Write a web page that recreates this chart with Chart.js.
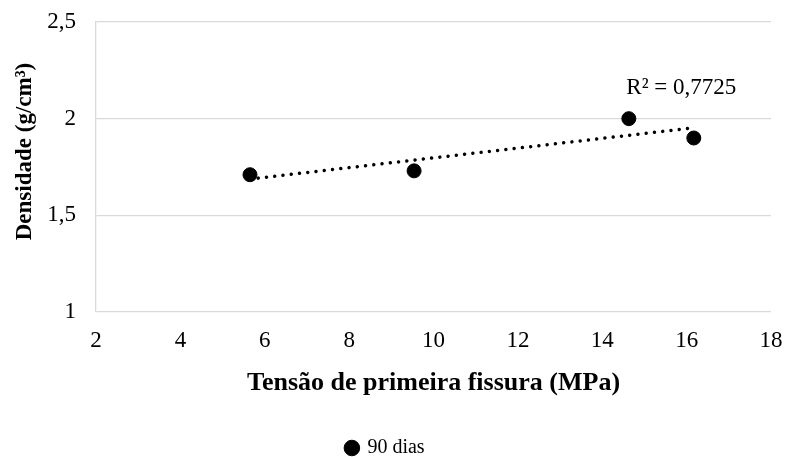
<!DOCTYPE html>
<html>
<head>
<meta charset="utf-8">
<script src="https://cdn.jsdelivr.net/npm/chart.js@4/dist/chart.umd.min.js"></script>
<style>
  html, body { margin: 0; padding: 0; background: #fff; }
  #wrap { width: 787px; height: 457px; position: relative; }
</style>
</head>
<body>
<div id="wrap"><canvas id="c" width="787" height="457"></canvas></div>
<script>
// Data
const seriesName = '90 dias';
const tensao = [5.65, 9.54, 14.63, 16.17];     // x: Tensão de primeira fissura (MPa)
const densidade = [1.71, 1.73, 2.0, 1.9];     // y: Densidade (g/cm³)
const r2Label = 'R² = 0,7725';
const xTitle = 'Tensão de primeira fissura (MPa)';
const yTitle = 'Densidade (g/cm³)';
const xTicks = [2, 4, 6, 8, 10, 12, 14, 16, 18];
const yTicks = [1, 1.5, 2, 2.5];

// Linear trendline (least squares) from the data
function linFit(xs, ys) {
  const n = xs.length;
  const mx = xs.reduce((a, b) => a + b, 0) / n;
  const my = ys.reduce((a, b) => a + b, 0) / n;
  let sxy = 0, sxx = 0;
  for (let i = 0; i < n; i++) { sxy += (xs[i] - mx) * (ys[i] - my); sxx += (xs[i] - mx) ** 2; }
  const m = sxy / sxx;
  return { m, b: my - m * mx };
}
const fit = linFit(tensao, densidade);
const xMin = Math.min(...tensao), xMax = Math.max(...tensao);
const trend = [xMin, xMax].map(x => ({ x, y: fit.m * x + fit.b }));

const FONT = "'Liberation Serif', 'Times New Roman', serif";

const textPlugin = {
  id: 'texts',
  afterDatasetsDraw(chart) {
    const { ctx, scales } = chart;
    ctx.save();
    ctx.fillStyle = '#000';
    // R² label
    ctx.font = `23px ${FONT}`;
    ctx.textAlign = 'left';
    ctx.textBaseline = 'middle';
    ctx.fillText(r2Label, scales.x.getPixelForValue(14.57), scales.y.getPixelForValue(2.161));
    // Y axis title (rotated)
    ctx.font = `bold 23px ${FONT}`;
    ctx.textAlign = 'center';
    ctx.translate(25, scales.y.getPixelForValue(1.83));
    ctx.rotate(-Math.PI / 2);
    ctx.fillText(yTitle, 0, 0);
    ctx.restore();
  }
};

new Chart(document.getElementById('c'), {
  type: 'scatter',
  data: {
    datasets: [
      {
        label: seriesName,
        data: tensao.map((x, i) => ({ x, y: densidade[i] })),
        backgroundColor: '#000',
        borderColor: '#000',
        pointRadius: 7,
        pointHoverRadius: 7,
        pointStyle: 'circle',
        order: 1
      },
      {
        label: 'trend',
        type: 'line',
        data: trend,
        borderColor: '#000',
        borderWidth: 3.5,
        borderDash: [0.01, 8.3],
        borderCapStyle: 'round',
        pointRadius: 0,
        fill: false,
        order: 2
      }
    ]
  },
  options: {
    responsive: false,
    animation: false,
    layout: { padding: { top: 22, right: 16, left: 0, bottom: -11 } },
    plugins: {
      tooltip: { enabled: false },
      legend: {
        position: 'bottom',
        labels: {
          filter: item => item.text === seriesName,
          usePointStyle: true,
          pointStyle: 'circle',
          boxWidth: 11,
          boxHeight: 11,
          padding: 10,
          color: '#000',
          font: { family: FONT, size: 20 }
        }
      }
    },
    scales: {
      x: {
        type: 'linear',
        min: 2, max: 18,
        afterBuildTicks: s => { s.ticks = xTicks.map(v => ({ value: v })); },
        afterFit: s => { s.height = 116; s.paddingLeft = 0; s.paddingRight = 0; },
        grid: { display: false, drawTicks: false },
        border: { display: false },
        ticks: {
          color: '#000',
          padding: 15,
          font: { family: FONT, size: 23 },
          maxRotation: 0,
          callback: v => String(v)
        },
        title: {
          display: true,
          text: xTitle,
          color: '#000',
          font: { family: FONT, size: 26, weight: 'bold' },
          padding: { top: 0, bottom: 29 }
        }
      },
      y: {
        type: 'linear',
        min: 1, max: 2.5,
        afterBuildTicks: s => { s.ticks = yTicks.map(v => ({ value: v })); },
        afterFit: s => { s.width = 96; s.paddingTop = 0; s.paddingBottom = 0; },
        grid: { color: '#d9d9d9', lineWidth: 1.3, drawTicks: false },
        border: { display: true, color: '#d9d9d9', width: 1.3 },
        ticks: {
          color: '#000',
          padding: 20,
          font: { family: FONT, size: 23 },
          callback: v => String(v).replace('.', ',')
        },
        title: { display: false }
      }
    }
  },
  plugins: [textPlugin]
});
</script>
</body>
</html>
